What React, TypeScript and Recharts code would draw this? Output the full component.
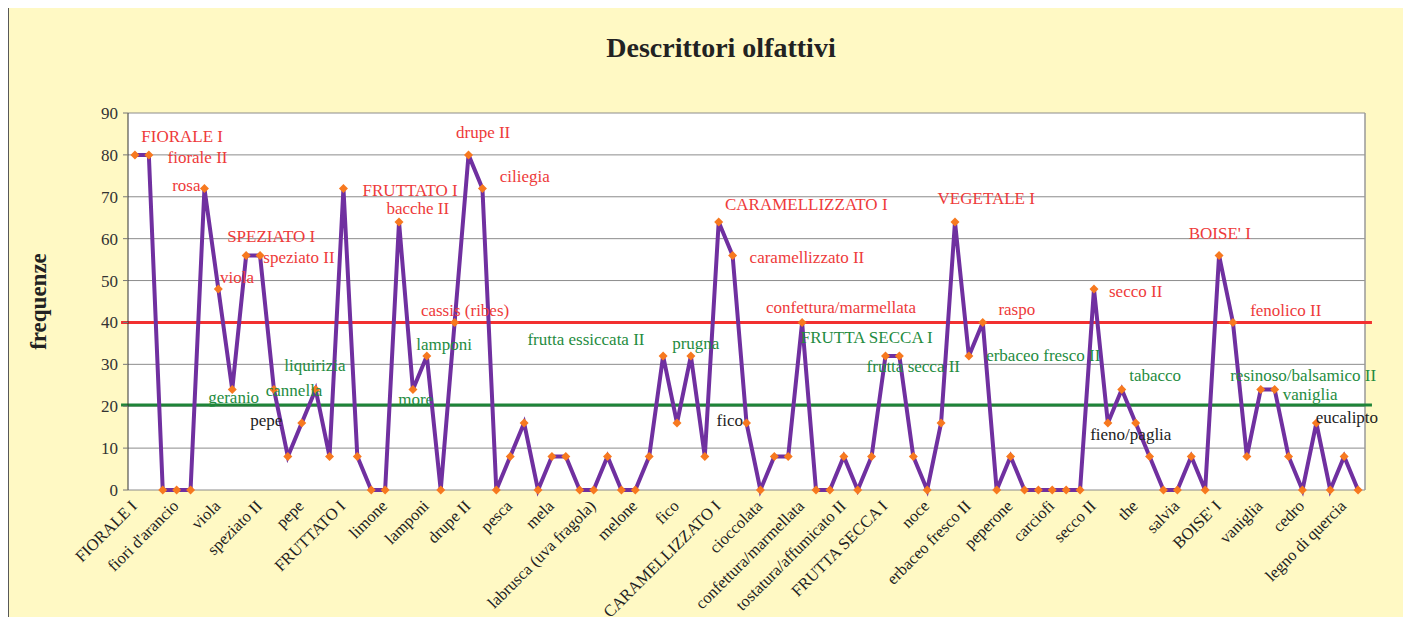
import React from "react";
import {
  CartesianGrid,
  Line,
  LineChart,
  ReferenceDot,
  ReferenceLine,
  XAxis,
  YAxis
} from "recharts";

// tick labels shown every third descriptor on the x axis
const tickLabels = [
  "FIORALE I", "fiori d'arancio", "viola", "speziato II", "pepe", "FRUTTATO I",
  "limone", "lamponi", "drupe II", "pesca", "mela", "labrusca (uva fragola)",
  "melone", "fico", "CARAMELLIZZATO I", "cioccolata", "confettura/marmellata",
  "tostatura/affumicato II", "FRUTTA SECCA I", "noce", "erbaceo fresco II",
  "peperone", "carciofi", "secco II", "the", "salvia", "BOISE' I", "vaniglia",
  "cedro", "legno di quercia"
];

// frequency for each of the 89 descriptors, in axis order
const frequenze = [
  80, 80, 0, 0, 0, 72, 48, 24, 56, 56,
  24, 8, 16, 24, 8, 72, 8, 0, 0, 64,
  24, 32, 0, 40, 80, 72, 0, 8, 16, 0,
  8, 8, 0, 0, 8, 0, 0, 8, 32, 16,
  32, 8, 64, 56, 16, 0, 8, 8, 40, 0,
  0, 8, 0, 8, 32, 32, 8, 0, 16, 64,
  32, 40, 0, 8, 0, 0, 0, 0, 0, 48,
  16, 24, 16, 8, 0, 0, 8, 0, 56, 40,
  8, 24, 24, 8, 0, 16, 0, 8, 0
];

const yTicks = [0, 10, 20, 30, 40, 50, 60, 70, 80, 90];
const soglie = [40, 20.3];

// in-chart descriptor notes: [text, x (descriptor index), y (frequency), group]
const notes: [string, number, number, "hi" | "mid" | "lo"][] = [
  ["FIORALE I", 3.4, 84.5, "hi"],
  ["fiorale II", 4.5, 79.5, "hi"],
  ["rosa", 3.7, 72.8, "hi"],
  ["SPEZIATO I", 9.8, 60.6, "hi"],
  ["speziato II", 11.8, 55.6, "hi"],
  ["viola", 7.35, 50.8, "hi"],
  ["geranio", 7.1, 22.2, "mid"],
  ["cannella", 11.45, 23.9, "mid"],
  ["liquirizia", 12.95, 29.8, "mid"],
  ["pepe", 9.45, 16.7, "lo"],
  ["FRUTTATO I", 19.8, 71.6, "hi"],
  ["bacche II", 20.35, 67.3, "hi"],
  ["lamponi", 22.25, 34.9, "mid"],
  ["more", 20.2, 21.7, "mid"],
  ["cassis (ribes)", 23.75, 43, "hi"],
  ["drupe II", 25.05, 85.5, "hi"],
  ["ciliegia", 28.05, 75, "hi"],
  ["frutta essiccata II", 32.45, 36, "mid"],
  ["prugna", 40.35, 35.1, "mid"],
  ["fico", 42.8, 16.7, "lo"],
  ["CARAMELLIZZATO I", 48.3, 68.3, "hi"],
  ["caramellizzato II", 48.35, 55.6, "hi"],
  ["confettura/marmellata", 50.8, 43.7, "hi"],
  ["FRUTTA SECCA I", 52.65, 36.5, "mid"],
  ["frutta secca II", 56, 29.6, "mid"],
  ["VEGETALE I", 61.25, 69.7, "hi"],
  ["raspo", 63.45, 43.2, "hi"],
  ["erbaceo fresco II", 65.35, 32.2, "mid"],
  ["secco II", 72, 47.5, "hi"],
  ["tabacco", 73.4, 27.5, "mid"],
  ["fieno/paglia", 71.65, 13.4, "lo"],
  ["BOISE' I", 78.05, 61.3, "hi"],
  ["fenolico II", 82.8, 43, "hi"],
  ["resinoso/balsamico II", 84.05, 27.4, "mid"],
  ["vaniglia", 84.55, 22.9, "mid"],
  ["eucalipto", 87.2, 17.4, "lo"]
];

const FONT = '"Liberation Serif", "Times New Roman", serif';
const noteColor = { hi: "#ee3a3a", mid: "#1f8c41", lo: "#222222" };

const data = frequenze.map((value, i) => ({ i, value }));
const labelTicks = tickLabels.map((_, k) => k * 3);
const boundaryTicks = Array.from({ length: frequenze.length + 1 }, (_, k) => k - 0.5);
const domain: [number, number] = [-0.5, frequenze.length - 0.5];

const XLabel = ({ x, y, payload }: any) => (
  <g transform={`translate(${x + 3},${y + 17})`}>
    <text
      textAnchor="end"
      transform="rotate(-45)"
      fontSize={16.5}
      fontFamily={FONT}
      fill="#222"
    >
      {tickLabels[Math.round(payload.value / 3)]}
    </text>
  </g>
);

const Diamond = (props: any) => {
  const { cx, cy, index } = props;
  if (cx == null || cy == null) return <g key={index} />;
  return (
    <path
      key={index}
      d={`M${cx},${cy - 4.5} L${cx + 4.5},${cy} L${cx},${cy + 4.5} L${cx - 4.5},${cy} Z`}
      fill="#f7791f"
    />
  );
};

export default function App() {
  return (
    <div style={{ position: "relative", width: 1411, height: 625, margin: -8, overflow: "hidden", background: "#fff" }}>
      <div
        style={{
          position: "absolute",
          left: 7,
          top: 5,
          width: 1401,
          height: 700,
          boxSizing: "border-box",
          border: "2px solid #585858",
          background: "#fff9c4"
        }}
      />
      <div
        style={{
          position: "absolute",
          left: 421,
          top: 34,
          width: 600,
          textAlign: "center",
          fontFamily: FONT,
          fontWeight: "bold",
          fontSize: 28,
          lineHeight: "28px",
          color: "#222"
        }}
      >
        Descrittori olfattivi
      </div>
      <div style={{ position: "absolute", left: 0, top: 0 }}>
        <LineChart
          width={1411}
          height={625}
          data={data}
          margin={{ top: 113, right: 46, left: 18, bottom: 0 }}
        >
          <CartesianGrid vertical={false} stroke="#8c8c8c" fill="#ffffff" />
          <XAxis
            xAxisId="minor"
            dataKey="i"
            type="number"
            domain={domain}
            allowDataOverflow
            ticks={boundaryTicks}
            tick={false}
            tickSize={5}
            height={0}
            stroke="#333"
            tickLine={{ stroke: "#444" }}
          />
          <XAxis
            xAxisId="main"
            dataKey="i"
            type="number"
            domain={domain}
            allowDataOverflow
            ticks={labelTicks}
            interval={0}
            tick={<XLabel />}
            tickSize={0}
            tickMargin={0}
            tickLine={false}
            axisLine={false}
            height={135}
          />
          <YAxis
            domain={[0, 90]}
            ticks={yTicks}
            width={110}
            tickSize={5}
            tickMargin={5}
            stroke="#333"
            tickLine={{ stroke: "#777" }}
            tick={{ fontSize: 17, fontFamily: FONT, fill: "#333" }}
            label={{
              value: "frequenze",
              angle: -90,
              position: "insideLeft",
              offset: 20,
              style: { textAnchor: "middle", fontSize: 23, fontWeight: "bold", fontFamily: FONT, fill: "#222" }
            }}
          />
          <ReferenceLine xAxisId="main" x={domain[1]} stroke="#999" strokeWidth={1.5} />
          <ReferenceLine
            xAxisId="main"
            ifOverflow="visible"
            segment={[{ x: -1, y: soglie[0] }, { x: frequenze.length, y: soglie[0] }]}
            stroke="#f23030"
            strokeWidth={3}
          />
          <ReferenceLine
            xAxisId="main"
            ifOverflow="visible"
            segment={[{ x: -1, y: soglie[1] }, { x: frequenze.length, y: soglie[1] }]}
            stroke="#1e8438"
            strokeWidth={3}
          />
          <Line
            xAxisId="main"
            type="linear"
            dataKey="value"
            stroke="#7030a0"
            strokeWidth={4}
            dot={Diamond}
            activeDot={false}
            isAnimationActive={false}
          />
          {notes.map(([text, x, y, g]) => (
            <ReferenceDot
              key={text}
              xAxisId="main"
              x={x}
              y={y}
              r={0}
              ifOverflow="visible"
              stroke="none"
              label={{ value: text, position: "center", fill: noteColor[g], fontSize: 17, fontFamily: FONT }}
            />
          ))}
        </LineChart>
      </div>
    </div>
  );
}
